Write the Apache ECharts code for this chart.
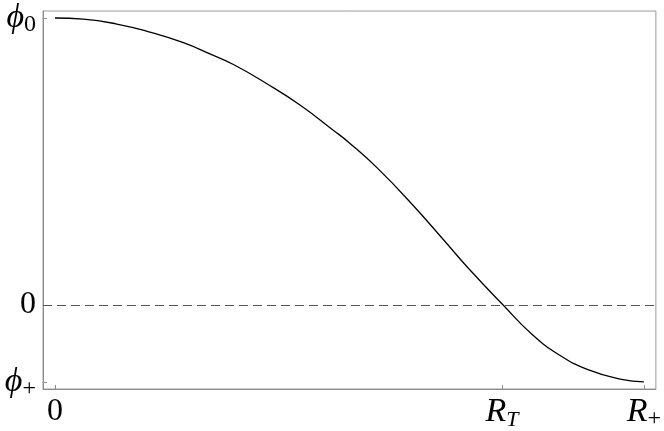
<!DOCTYPE html>
<html>
<head>
<meta charset="utf-8">
<script src="https://cdn.jsdelivr.net/npm/echarts@6/dist/echarts.min.js"></script>
<style>
  html, body { margin: 0; padding: 0; background: #fff; }
  #chart { width: 664px; height: 431px; }
</style>
</head>
<body>
<div id="chart"></div>
<script>
// x in units of R_+, y in units of phi_0
const R_T = 0.759;
const PHI_PLUS = -0.268;
const xTicks = [0, R_T, 1];
const yTicks = [PHI_PLUS, 0, 1];
const curveX = [0, 0.048, 0.105, 0.161, 0.218, 0.263, 0.303, 0.359, 0.416, 0.472, 0.501, 0.548, 0.606, 0.662, 0.702, 0.761, 0.809, 0.857, 0.905, 0.962, 1];
const curveY = [1, 0.996, 0.979, 0.951, 0.914, 0.875, 0.838, 0.772, 0.697, 0.61, 0.563, 0.476, 0.352, 0.222, 0.128, 0, -0.1, -0.175, -0.225, -0.259, -0.268];

const chart = echarts.init(document.getElementById("chart"));

const serif = "Liberation Serif";
const rich = {
  m: { fontFamily: serif, fontSize: 34, fontStyle: "italic", color: "#000", lineHeight: 38, verticalAlign: "middle" },
  n: { fontFamily: serif, fontSize: 32, color: "#000", lineHeight: 38, verticalAlign: "middle" },
  s: { fontFamily: serif, fontSize: 24, color: "#000", lineHeight: 38, verticalAlign: "bottom" },
  si: { fontFamily: serif, fontSize: 22, fontStyle: "italic", color: "#000", lineHeight: 38, verticalAlign: "bottom" },
};

const axisCommon = {
  type: "value",
  axisLine: { show: true, onZero: false, lineStyle: { color: "#8c8c8c", width: 1 } },
  axisTick: { show: true, inside: true, length: 4, lineStyle: { color: "#8c8c8c" } },
  splitLine: { show: false },
};

chart.setOption({
  animation: false,
  grid: { left: 43, right: 8, top: 11, bottom: 42, show: true, borderColor: "#9a9a9a", borderWidth: 1 },
  xAxis: Object.assign({}, axisCommon, {
    min: -0.0204,
    max: 1.0204,
    axisTick: Object.assign({}, axisCommon.axisTick, { customValues: xTicks }),
    axisLabel: {
      customValues: xTicks,
      margin: 4,
      rich: rich,
      formatter: function (v) {
        if (v === 0) return "{n|0}";
        if (v === 1) return "{m|R}{s|+}";
        return "{m|R}{si|T}";
      },
    },
  }),
  yAxis: Object.assign({}, axisCommon, {
    min: -0.2927,
    max: 1.0244,
    axisTick: Object.assign({}, axisCommon.axisTick, { customValues: yTicks }),
    axisLabel: {
      customValues: yTicks,
      margin: 7,
      rich: rich,
      formatter: function (v) {
        if (v === 0) return "{n|0}";
        if (v === 1) return "{m|ϕ}{s|0}";
        return "{m|ϕ}{s|+}";
      },
    },
  }),
  series: [
    {
      type: "line",
      data: curveX.map(function (x, i) { return [x, curveY[i]]; }),
      smooth: 0.5,
      symbol: "none",
      lineStyle: { color: "#000", width: 1.3 },
      markLine: {
        silent: true,
        symbol: "none",
        label: { show: false },
        lineStyle: { color: "#555", type: [9, 5], width: 1.2 },
        data: [{ yAxis: 0 }],
      },
    },
  ],
});
</script>
</body>
</html>
